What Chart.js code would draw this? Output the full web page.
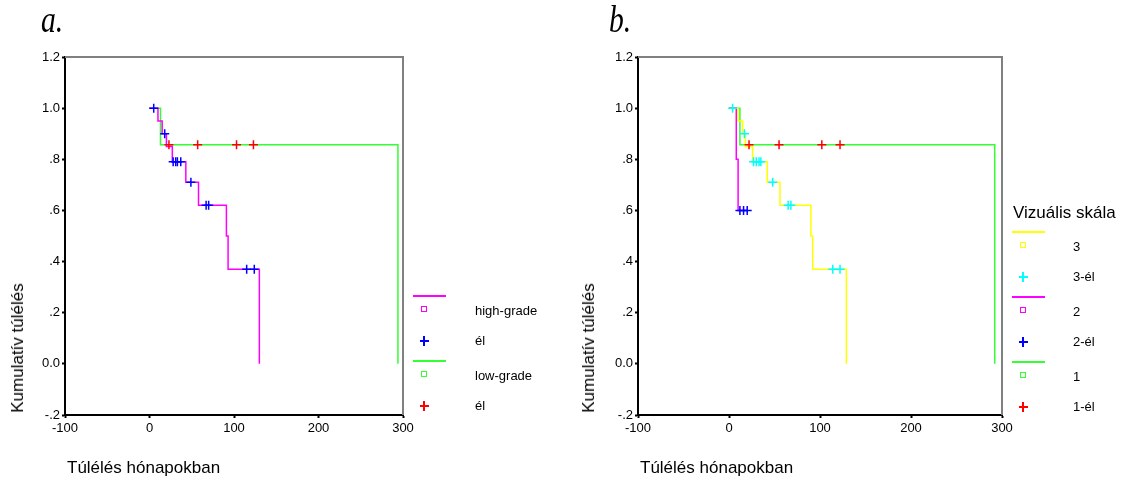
<!DOCTYPE html>
<html>
<head>
<meta charset="utf-8">
<script src="https://cdn.jsdelivr.net/npm/chart.js@4/dist/chart.umd.min.js"></script>
<style>
  body { margin: 0; background: #fff; font-family: "Liberation Sans", Arial, sans-serif; }
  #wrap { position: relative; width: 1123px; height: 485px; overflow: hidden; }
  canvas { position: absolute; top: 0; }
  .txt { position: absolute; white-space: nowrap; color: #000; line-height: 1; }
  .ytitle { position: absolute; font-size: 17px; white-space: nowrap; transform: translate(-50%, -50%) rotate(-90deg); }
  .panel { position: absolute; font-family: "Liberation Serif", serif; font-style: italic; font-size: 38px; line-height: 1; transform: scaleX(0.78); transform-origin: left top; }
  .mk { position: absolute; z-index: 2; }
</style>
</head>
<body>
<div id="wrap">
  <canvas id="chartA" width="560" height="485" style="left:0px"></canvas>
  <canvas id="chartB" width="553" height="485" style="left:570px"></canvas>

  <div class="panel" style="left:41px; top:0px;">a.</div>
  <div class="panel" style="left:609px; top:0px;">b.</div>

  <div class="ytitle" style="left:18px; top:348px;">Kumulatív túlélés</div>
  <div class="ytitle" style="left:589px; top:348px;">Kumulatív túlélés</div>
  <div class="txt" style="left:67px; top:459px; font-size:17px;">Túlélés hónapokban</div>
  <div class="txt" style="left:640px; top:459px; font-size:17px;">Túlélés hónapokban</div>
  <div class="txt" style="left:1013px; top:204px; font-size:17px;">Vizuális skála</div>
</div>

<script>
// axis ticks
const yTicks = [-0.2, 0, 0.2, 0.4, 0.6, 0.8, 1.0, 1.2];
const yTickLabels = ['-.2', '0.0', '.2', '.4', '.6', '.8', '1.0', '1.2'];
const xTicks = [-100, 0, 100, 200, 300];
const xTickLabels = ['-100', '0', '100', '200', '300'];

// a. high-grade / low-grade (months, cumulative survival after each step)
const highTimes = [0, 10, 15, 20, 27, 43, 58, 91, 93, 130];
const highSurv = [1, 0.95, 0.90, 0.85, 0.79, 0.71, 0.62, 0.50, 0.37, 0];
const highCensTimes = [5, 18, 28, 31, 33, 37, 49, 67, 70, 115, 124];
const highCensSurv = [1, 0.90, 0.79, 0.79, 0.79, 0.79, 0.71, 0.62, 0.62, 0.37, 0.37];

const lowTimes = [0, 13, 294];
const lowSurv = [1, 0.857, 0];
const lowCensTimes = [23, 57, 103, 123];
const lowCensSurv = [0.857, 0.857, 0.857, 0.857];

// b. Vizuális skála 3 / 2 / 1
const g3Times = [0, 10, 15, 18, 26, 42, 56, 90, 92, 129];
const g3Surv = [1, 0.95, 0.90, 0.85, 0.79, 0.71, 0.62, 0.50, 0.37, 0];
const g3CensTimes = [4, 17, 27, 30, 33, 35, 48, 65, 68, 114, 122];
const g3CensSurv = [1, 0.90, 0.79, 0.79, 0.79, 0.79, 0.71, 0.62, 0.62, 0.37, 0.37];

const g2Times = [0, 8, 10, 21];
const g2Surv = [1, 0.80, 0.60, 0.60];
const g2CensTimes = [12, 16, 20];
const g2CensSurv = [0.60, 0.60, 0.60];

const g1Times = [0, 12, 292];
const g1Surv = [1, 0.857, 0];
const g1CensTimes = [22, 55, 102, 122];
const g1CensSurv = [0.857, 0.857, 0.857, 0.857];

Chart.defaults.font.family = '"Liberation Sans", Arial, sans-serif';
Chart.defaults.font.size = 13;
Chart.defaults.color = '#000';

function pts(xs, ys) {
  return xs.map((x, i) => ({ x: x, y: ys[i] }));
}

function curve(xs, ys, color) {
  return {
    type: 'line', data: pts(xs, ys), borderColor: color, borderWidth: 1.5,
    stepped: true, pointRadius: 0, fill: false
  };
}

function censored(xs, ys, color) {
  return {
    type: 'scatter', data: pts(xs, ys), borderColor: color, backgroundColor: color,
    pointStyle: 'cross', pointRadius: 4.5, borderWidth: 1.5, showLine: false
  };
}

// grey top / right frame like the SPSS output
const framePlugin = {
  id: 'frame',
  beforeDatasetsDraw(chart) {
    const a = chart.chartArea;
    const ctx = chart.ctx;
    ctx.save();
    ctx.strokeStyle = '#808080';
    ctx.lineWidth = 2;
    ctx.beginPath();
    ctx.moveTo(a.left, a.top);
    ctx.lineTo(a.right, a.top);
    ctx.lineTo(a.right, a.bottom);
    ctx.stroke();
    ctx.restore();
  }
};

function makeChart(id, datasets, yWidth, padRight) {
  return new Chart(document.getElementById(id), {
    type: 'line',
    data: { datasets: datasets },
    plugins: [framePlugin],
    options: {
      responsive: false,
      animation: false,
      layout: { padding: { left: 0, top: 57, right: padRight, bottom: 0 } },
      plugins: { legend: { display: false }, tooltip: { enabled: false } },
      scales: {
        x: {
          type: 'linear', min: -100, max: 300,
          afterBuildTicks: s => { s.ticks = xTicks.map(v => ({ value: v })); },
          afterFit: s => { s.height = 70; },
          ticks: { callback: (v, i) => xTickLabels[i], padding: 3, maxRotation: 0 },
          grid: { drawOnChartArea: false, tickLength: 3, tickColor: '#000', tickWidth: 2 },
          border: { color: '#000', width: 2 }
        },
        y: {
          type: 'linear', min: -0.2, max: 1.2,
          afterBuildTicks: s => { s.ticks = yTicks.map(v => ({ value: v })); },
          afterFit: s => { s.width = yWidth; },
          ticks: { callback: (v, i) => yTickLabels[i], padding: 2 },
          grid: { drawOnChartArea: false, tickLength: 3, tickColor: '#000', tickWidth: 2 },
          border: { color: '#000', width: 2 }
        }
      }
    }
  });
}

makeChart('chartA', [
  censored(highCensTimes, highCensSurv, '#0000ff'),
  censored(lowCensTimes, lowCensSurv, '#ff0000'),
  curve(highTimes, highSurv, '#ff00ff'),
  curve(lowTimes, lowSurv, '#33ff33')
], 65, 157);

makeChart('chartB', [
  censored(g3CensTimes, g3CensSurv, '#00ffff'),
  censored(g2CensTimes, g2CensSurv, '#0000ff'),
  censored(g1CensTimes, g1CensSurv, '#ff0000'),
  curve(g2Times, g2Surv, '#ff00ff'),
  curve(g3Times, g3Surv, '#ffff00'),
  curve(g1Times, g1Surv, '#33ff33')
], 68, 121);

// legends, built from small entry lists
const wrap = document.getElementById('wrap');

function box(x, y, w, h, css) {
  const d = document.createElement('div');
  d.className = 'mk';
  d.style.cssText += `left:${x}px;top:${y}px;width:${w}px;height:${h}px;` + css;
  wrap.appendChild(d);
}

function label(x, y, text) {
  const d = document.createElement('div');
  d.className = 'txt';
  d.style.cssText += `left:${x}px;top:${y - 7}px;font-size:13px;`;
  d.textContent = text;
  wrap.appendChild(d);
}

function legend(x, textX, y0, groups) {
  let y = y0;
  groups.forEach(g => {
    box(x, y, 33, 2, `background:${g.line};`);
    box(x + 8, y + 11, 4, 4, `border:1px solid ${g.line};`);
    label(textX, y + 16, g.name);
    const cy = y + 46;
    box(x + 7, cy - 1, 9, 2, `background:${g.cens};`);
    box(x + 10, cy - 5, 2, 10, `background:${g.cens};`);
    label(textX, cy, g.censName);
    y += 65;
  });
}

legend(413, 475, 295, [
  { line: '#ff00ff', cens: '#0000ff', name: 'high-grade', censName: 'él' },
  { line: '#33ff33', cens: '#ff0000', name: 'low-grade', censName: 'él' }
]);

legend(1012, 1073, 231, [
  { line: '#ffff00', cens: '#00ffff', name: '3', censName: '3-él' },
  { line: '#ff00ff', cens: '#0000ff', name: '2', censName: '2-él' },
  { line: '#33ff33', cens: '#ff0000', name: '1', censName: '1-él' }
]);
</script>
</body>
</html>
